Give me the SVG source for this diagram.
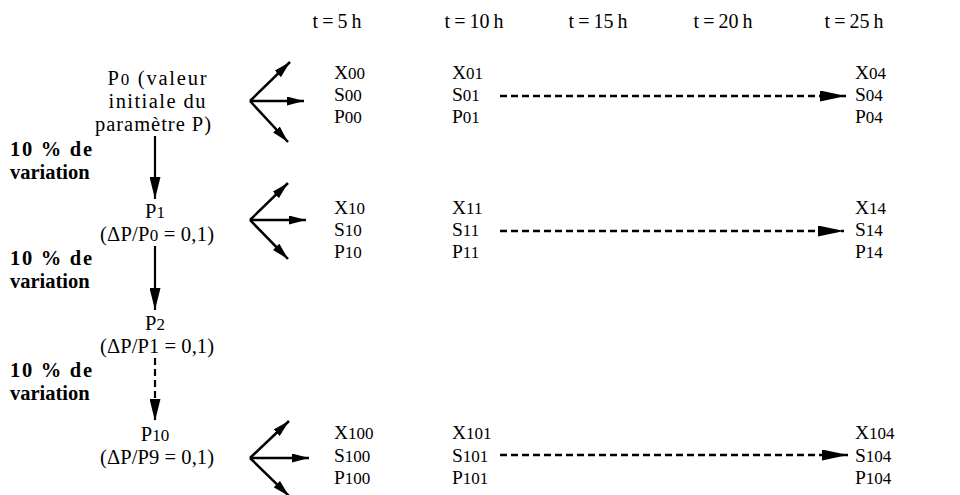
<svg xmlns="http://www.w3.org/2000/svg" width="960" height="495" viewBox="0 0 960 495">
<defs>
<marker id="hs" viewBox="0 0 17 9" refX="17" refY="4.5" markerWidth="17" markerHeight="9" markerUnits="userSpaceOnUse" orient="auto"><path d="M0,0 L17,4.5 L0,9 z" fill="#000"/></marker>
<marker id="hl" viewBox="0 0 26 11" refX="26" refY="5.5" markerWidth="26" markerHeight="11" markerUnits="userSpaceOnUse" orient="auto"><path d="M0,0 L26,5.5 L0,11 z" fill="#000"/></marker>
<marker id="hv" viewBox="0 0 22 11" refX="22" refY="5.5" markerWidth="22" markerHeight="11" markerUnits="userSpaceOnUse" orient="auto"><path d="M0,0 L22,5.5 L0,11 z" fill="#000"/></marker>
</defs>
<style>
text{font-family:"Liberation Serif","Times New Roman",serif;font-size:19.5px;fill:#000}
.h{word-spacing:-1px;font-size:20px}
.l{font-size:20.5px;text-anchor:middle}
.b{font-weight:bold;font-size:20.5px}
.s{font-size:17px}
.fan{stroke:#000;stroke-width:2.5;fill:none;marker-end:url(#hs)}
.dash{stroke:#000;stroke-width:2.5;stroke-dasharray:7,4;fill:none;marker-end:url(#hl)}
.v{stroke:#000;stroke-width:2.2;fill:none;marker-end:url(#hv)}
</style>
<rect width="960" height="495" fill="#fff"/>
<g id="header" text-anchor="middle">
<text class="h" x="337" y="28">t = 5 h</text>
<text class="h" x="474" y="28">t = 10 h</text>
<text class="h" x="598" y="28">t = 15 h</text>
<text class="h" x="723" y="28">t = 20 h</text>
<text class="h" x="854" y="28">t = 25 h</text>
</g>
<g id="p0">
<text class="l" x="157" y="85" textLength="99" lengthAdjust="spacing">P<tspan class="s">0</tspan> (valeur</text>
<text class="l" x="157" y="108" textLength="97" lengthAdjust="spacing">initiale du</text>
<text class="l" x="153" y="131" textLength="116" lengthAdjust="spacing">paramètre P)</text>
</g>
<g id="var1"><text class="b" x="10" y="156" textLength="82" lengthAdjust="spacing">10 % de</text><text class="b" x="10" y="179">variation</text></g>
<g id="p1">
<text class="l" x="155" y="218">P<tspan class="s">1</tspan></text>
<text class="l" x="157" y="241" textLength="114" lengthAdjust="spacing">(ΔP/P<tspan class="s">0</tspan> = 0,1)</text>
</g>
<g id="var2"><text class="b" x="10" y="265" textLength="82" lengthAdjust="spacing">10 % de</text><text class="b" x="10" y="288">variation</text></g>
<g id="p2">
<text class="l" x="155" y="330">P<tspan class="s">2</tspan></text>
<text class="l" x="157" y="353" textLength="114" lengthAdjust="spacing">(ΔP/P1 = 0,1)</text>
</g>
<g id="var3"><text class="b" x="10" y="377" textLength="82" lengthAdjust="spacing">10 % de</text><text class="b" x="10" y="400">variation</text></g>
<g id="p10">
<text class="l" x="155" y="441">P<tspan class="s">10</tspan></text>
<text class="l" x="157" y="464" textLength="114" lengthAdjust="spacing">(ΔP/P9 = 0,1)</text>
</g>
<g id="r0c0"><text x="334" y="79">X<tspan class="s">00</tspan></text><text x="334" y="101">S<tspan class="s">00</tspan></text><text x="334" y="123">P<tspan class="s">00</tspan></text></g>
<g id="r0c1"><text x="452" y="79">X<tspan class="s">01</tspan></text><text x="452" y="101">S<tspan class="s">01</tspan></text><text x="452" y="123">P<tspan class="s">01</tspan></text></g>
<g id="r0c4"><text x="855" y="79">X<tspan class="s">04</tspan></text><text x="855" y="101">S<tspan class="s">04</tspan></text><text x="855" y="123">P<tspan class="s">04</tspan></text></g>
<g id="r1c0"><text x="334" y="214">X<tspan class="s">10</tspan></text><text x="334" y="236">S<tspan class="s">10</tspan></text><text x="334" y="258">P<tspan class="s">10</tspan></text></g>
<g id="r1c1"><text x="452" y="214">X<tspan class="s">11</tspan></text><text x="452" y="236">S<tspan class="s">11</tspan></text><text x="452" y="258">P<tspan class="s">11</tspan></text></g>
<g id="r1c4"><text x="855" y="214">X<tspan class="s">14</tspan></text><text x="855" y="236">S<tspan class="s">14</tspan></text><text x="855" y="258">P<tspan class="s">14</tspan></text></g>
<g id="r2c0"><text x="334" y="439">X<tspan class="s">100</tspan></text><text x="334" y="462">S<tspan class="s">100</tspan></text><text x="334" y="484">P<tspan class="s">100</tspan></text></g>
<g id="r2c1"><text x="452" y="439">X<tspan class="s">101</tspan></text><text x="452" y="462">S<tspan class="s">101</tspan></text><text x="452" y="484">P<tspan class="s">101</tspan></text></g>
<g id="r2c4"><text x="855" y="439">X<tspan class="s">104</tspan></text><text x="855" y="462">S<tspan class="s">104</tspan></text><text x="855" y="484">P<tspan class="s">104</tspan></text></g>
<g id="connectors">
<path class="fan" d="M250,101 L290,62"/><path class="fan" d="M250,101 L304,101"/><path class="fan" d="M250,101 L288,142"/>
<path class="fan" d="M250,220 L288,183"/><path class="fan" d="M250,220 L306,220"/><path class="fan" d="M250,220 L288,259"/>
<path class="fan" d="M250,458 L289,421"/><path class="fan" d="M250,458 L309,458"/><path class="fan" d="M250,458 L289,496"/>
<path class="dash" d="M500,96 L846,96"/>
<path class="dash" d="M500,231 L844,231"/>
<path class="dash" d="M500,455 L848,455"/>
<path class="v" d="M155,136 L155,199"/>
<path class="v" d="M155,246 L155,310"/>
<path class="v" d="M155,358 L155,421" stroke-dasharray="7,4"/>
</g>
</svg>
